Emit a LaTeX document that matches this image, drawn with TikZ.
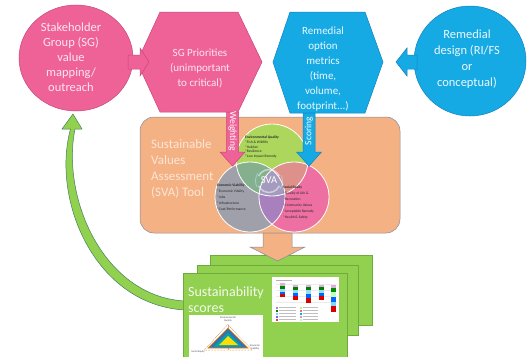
\documentclass[tikz,border=0pt]{standalone}
\usepackage{fontspec}
\setmainfont{Carlito}
\definecolor{pinkF}{RGB}{239,98,152}
\definecolor{pinkE}{RGB}{200,70,120}
\definecolor{blueF}{RGB}{22,170,228}
\definecolor{blueE}{RGB}{20,130,190}
\definecolor{orangeF}{RGB}{244,177,131}
\definecolor{orangeE}{RGB}{130,140,160}
\definecolor{greenF}{RGB}{146,208,80}
\definecolor{greenE}{RGB}{110,170,60}
\definecolor{vGreen}{RGB}{172,214,92}
\definecolor{vGrey}{RGB}{160,160,170}
\definecolor{vPink}{RGB}{238,112,162}
\definecolor{vGG}{RGB}{132,176,142}
\definecolor{vGP}{RGB}{222,144,138}
\definecolor{vPG}{RGB}{168,128,190}
\definecolor{vAll}{RGB}{165,155,190}
\definecolor{lightTxt}{RGB}{252,230,238}
\definecolor{toolTxt}{RGB}{252,230,215}
\begin{document}
\begin{tikzpicture}[x=1pt,y=-1pt,
  pinkshape/.style={fill=pinkF,draw=pinkE,line width=0.5pt},
  blueshape/.style={fill=blueF,draw=blueE,line width=0.5pt},
  orangeshape/.style={fill=orangeF,draw=orangeE,line width=0.5pt},
  pageshape/.style={fill=greenF,draw=greenE,line width=0.6pt},
  boxtext/.style={text=lightTxt,align=center,inner sep=0pt},
  shafttext/.style={text=white,inner sep=0pt,font=\fontsize{9.5}{10}\selectfont},
  venntext/.style={align=left,inner sep=0pt,anchor=north west,text=black!85,font=\fontsize{3.6}{4.9}\selectfont},
  vennline/.style={draw=white,line width=0.8pt}]
\useasboundingbox (0,0) rectangle (527,356);

% ---- top row: stakeholder circle, priorities, metrics, design ----
\path[pinkshape] (76,58) ellipse (57 and 53);
\node[boxtext,font=\fontsize{12.5}{15}\selectfont] (sg) at (71,57)
  {Stakeholder\\Group (SG)\\value\\mapping/\\outreach};

\path[pinkshape] (137,62)--(160,12)--(238,12)--(262,62)--(238,112)--(160,112)--cycle;
\node[boxtext,font=\fontsize{11}{15}\selectfont] (prio) at (200,68)
  {SG Priorities\\(unimportant\\to critical)};

\path[blueshape] (273,62)--(290,12)--(365,12)--(383,62)--(365,113)--(290,113)--cycle;
\node[boxtext,text=white!92!blueF,font=\fontsize{11}{15}\selectfont] (metrics) at (323,69.5)
  {Remedial\\option\\metrics\\(time,\\volume,\\footprint...)};

\path[blueshape] (470,61) ellipse (56 and 55);
\node[boxtext,text=white!92!blueF,font=\fontsize{12.5}{16}\selectfont] (design) at (467,59)
  {Remedial\\design (RI/FS\\or\\conceptual)};

% small block arrows between the top shapes
\path[pinkshape] (128,55)--(140,55)--(140,48)--(149,62)--(140,76)--(140,69)--(128,69)--cycle;
\path[blueshape] (417,55)--(407,55)--(407,48)--(396,62)--(407,76)--(407,69)--(417,69)--cycle;

% ---- SVA tool panel ----
\path[orangeshape,rounded corners=14pt] (140,117) rectangle (400,233);
\node[align=left,inner sep=0pt,anchor=west,text=toolTxt,font=\fontsize{13}{16}\selectfont] (tool) at (151,169)
  {Sustainable\\Values\\Assessment\\(SVA) Tool};

% Venn diagram: three circles, their overlaps, white rims
\fill[vGreen] (272,160) circle (36);
\fill[vGrey] (250,197) circle (35);
\fill[vPink] (294,197) circle (35);
\begin{scope}
  \clip (272,160) circle (36);
  \fill[vGG] (250,197) circle (35);
  \fill[vGP] (294,197) circle (35);
\end{scope}
\begin{scope}
  \clip (250,197) circle (35);
  \fill[vPG] (294,197) circle (35);
  \clip (294,197) circle (35);
  \fill[vAll] (272,160) circle (36);
\end{scope}
\draw[vennline] (272,160) circle (36);
\draw[vennline] (250,197) circle (35);
\draw[vennline] (294,197) circle (35);

\node[venntext] (env) at (245,135.5)
  {\textbf{Environmental Quality}\\*Fish \& Wildlife\\*Habitat\\*Resilience\\*Low Impact Remedy};
\node[venntext,font=\fontsize{3.6}{6}\selectfont] (econ) at (217,184)
  {\textbf{Economic Viability}\\*Economic Vitality\\*Jobs\\*Infrastructure\\*Cost/Performance};
\node[venntext,font=\fontsize{3.6}{6}\selectfont] (social) at (283,186)
  {\textbf{Social Equity}\\*Quality of Life \&\\\ \ Recreation\\*Community Values\\*Acceptable Remedy\\*Health \& Safety};

% SVA badge with circular arrows
\draw[white,opacity=0.5,line width=1.5pt] (269,181) ++(25:11.5) arc (25:155:11.5);
\draw[white,opacity=0.5,line width=1.5pt] (269,181) ++(205:11.5) arc (205:335:11.5);
\draw[cyan!30!white,opacity=0.6,line width=0.8pt] (269,181) ++(-25:13.5) arc (-25:35:13.5);
\draw[cyan!30!white,opacity=0.6,line width=0.8pt] (269,181) ++(155:13.5) arc (155:215:13.5);
\node[text=white,inner sep=0pt,font=\fontsize{10.5}{10.5}\selectfont] (sva) at (269,180.5) {SVA};

% weighting and scoring arrows into the tool
\path[pinkshape] (226.5,112)--(238.5,112)--(238.5,152)--(245,152)--(232.5,166)--(220,152)--(226.5,152)--cycle;
\node[shafttext,rotate=-90] (weight) at (232.5,131) {Weighting};
\path[blueshape] (303,113)--(315,113)--(315,152)--(321.5,152)--(309,166)--(296.5,152)--(303,152)--cycle;
\node[shafttext,rotate=90] (score) at (309,131) {Scoring};

% ---- feedback arrow back to the stakeholders ----
\path[fill=greenF,draw=black!45!blueE!60!greenF,line width=0.5pt]
  (185,310) .. controls (95,305) and (51,200) .. (70.5,129)
  -- (62,129) -- (73,114) -- (82,129) -- (75,129)
  .. controls (61,200) and (105,297) .. (185,301) -- cycle;

% ---- stacked score sheets ----
\path[pageshape] (210,255) rectangle (372,325);
\path[pageshape] (197,265) rectangle (358,335);
\path[pageshape] (183,273) rectangle (347,365);
\node[align=left,inner sep=0pt,anchor=west,text=white!90!greenF,font=\fontsize{14}{16}\selectfont] (scores) at (188,300)
  {Sustainability\\scores};

% stacked bar chart thumbnail
\fill[white] (272,277) rectangle (339,322);
\fill[black!30] (276,279.5) rectangle (292,280.5);
\foreach \y in {284,290,296,302} \draw[black!8,line width=0.3pt] (276,\y) -- (337,\y);
\foreach \x/\a/\b/\c/\d/\e/\f in {
  282/283/286/289/292/294/297,
  295/285/287/290/293/296/300,
  308/285/287/290/294/298/303,
  321.5/285/287/290/293/296/300}{
  \fill[violet!30] (\x-2.5,\a) rectangle (\x+2.5,\b);
  \fill[green!50!black] (\x-2.5,\b) rectangle (\x+2.5,\c);
  \fill[cyan!40] (\x-2.5,\c) rectangle (\x+2.5,\d);
  \fill[blue!60!cyan] (\x-2.5,\d) rectangle (\x+2.5,\e);
  \fill[red!85!black] (\x-2.5,\e) rectangle (\x+2.5,\f);
}
\fill[violet!30] (330.5,285) rectangle (335.5,288);
\fill[green!55!black] (330.5,288) rectangle (335.5,292);
\fill[green!25] (330.5,292) rectangle (335.5,297);
\fill[blue!60!cyan] (330.5,297) rectangle (335.5,302);
\fill[cyan!50] (330.5,302) rectangle (335.5,306);
\fill[red!85!black] (330.5,306) rectangle (335.5,312);
\foreach \y/\ca/\cb in {307/violet!50/green!40, 310/green!50!black/red!60, 313/cyan!50/cyan, 316/blue!60/violet!40, 319/red!80/green!30}{
  \fill[\ca] (276,\y) rectangle (278,\y+1.6);
  \fill[black!25] (279,\y+0.4) rectangle (296,\y+1.2);
  \fill[\cb] (300,\y) rectangle (302,\y+1.6);
  \fill[black!25] (303,\y+0.4) rectangle (318,\y+1.2);
}

% triangle chart thumbnail
\fill[white] (189,315) rectangle (263,362);
\node[inner sep=0pt,align=center,text=black!70,font=\fontsize{2.6}{3}\selectfont] (tEnv) at (228,319.5) {Environmental\\Quality};
\node[inner sep=0pt,align=center,text=black!70,font=\fontsize{2.6}{3}\selectfont] (tSoc) at (198,352) {Social Equity};
\node[inner sep=0pt,align=center,text=black!70,font=\fontsize{2.6}{3}\selectfont] (tEco) at (255,347.5) {Economic\\Viability};
\draw[orange!80!black,densely dotted,line width=0.5pt] (228,324.5) -- (204,350) -- (252,350) -- cycle;
\draw[black!30,line width=0.2pt] (228,324.5) -- (228,350);
\fill[cyan!60!blue!80!black,draw=orange,line width=0.6pt] (228,328) -- (208,348) -- (248,348) -- cycle;
\fill[teal!70!cyan] (228,333) -- (214,346.5) -- (242,346.5) -- cycle;
\fill[yellow!80!orange] (228,336) -- (219,345) -- (238,345) -- cycle;

% result arrow from the tool down to the sheets
\path[orangeshape] (263,233)--(292,233)--(292,247)--(305,247)--(277.5,261)--(250,247)--(263,247)--cycle;
\end{tikzpicture}
\end{document}
